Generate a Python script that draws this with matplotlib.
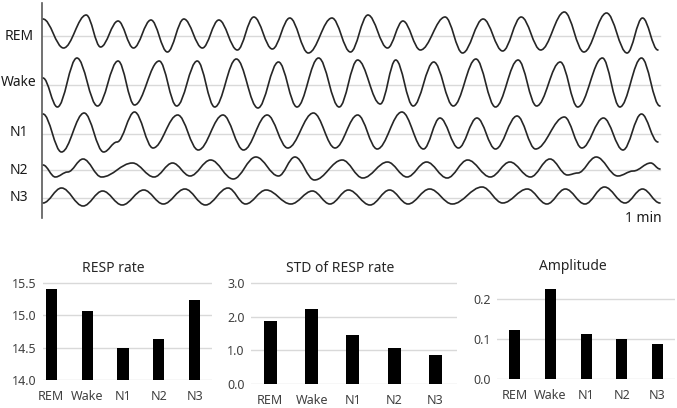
from matplotlib import pyplot as plt
from matplotlib.path import Path
from matplotlib.patches import PathPatch

plt.rcParams['font.family'] = ['Noto Sans', 'DejaVu Sans']

# breathing traces: peaks/troughs (time in s, signal in a.u.)
rem_t = [0.0, 2.0, 4.2, 5.6, 7.3, 8.8, 10.5, 12.1, 13.7, 15.5, 17.1, 18.9, 20.5, 22.3, 24.0, 25.8, 28.1,
         29.9, 31.6, 33.5, 35.0, 36.7, 39.1, 40.8, 42.8, 44.7, 46.5, 48.4, 50.7, 52.6, 54.8, 56.8, 58.3, 59.8]
rem_v = [16.5, -12.5, 20.5, -11.5, 14.5, -12.5, 15.5, -16.5, 16.5, -12.5, 15.5, -14.5, 18.5, -13.5, 17.5, -17.5, 17.5,
         -16.5, 20.5, -12.5, 14.5, -14.5, 18.5, -17.5, 16.5, -15.5, 18.5, -14.5, 23.5, -16.5, 22.5, -17.5, 17.5, -14.5]

wake_t = [0.0, 1.4, 3.3, 5.3, 7.3, 8.9, 11.3, 13.0, 15.0, 16.7, 18.8, 20.9, 22.9, 24.7, 26.8, 28.8,
          30.6, 32.8, 34.3, 36.0, 38.0, 39.9, 42.1, 44.0, 46.2, 48.0, 50.3, 52.0, 54.4, 56.1, 58.2, 60.0]
wake_v = [7, -22, 27, -21, 24, -20, 24, -21, 24, -22, 26, -23, 23, -22, 27, -22,
          25, -19, 25, -21, 23, -21, 26, -22, 25, -21, 23, -22, 27, -22, 27, -21]

n1_t = [0.0, 1.8, 4.0, 5.9, 7.2, 8.9, 10.7, 13.1, 15.1, 17.5, 19.5, 21.8, 23.8, 26.3, 28.4, 30.6,
        32.5, 34.9, 37.0, 38.6, 40.4, 42.2, 44.0, 46.1, 47.9, 50.7, 52.4, 54.5, 56.4, 58.2, 59.8]
n1_v = [19.5, -18.5, 20.5, -18.5, -8.5, 21.5, -14.5, 18.5, -16.5, 18.5, -16.5, 18.5, -14.5, 20.5, -14.5, 18.5,
        -15.5, 21.5, -15.5, 15.5, -14.5, 15.5, -15.5, 17.5, -15.5, 16.5, -14.5, 15.5, -16.5, 19.5, -8.5]

n2_t = [0.0, 1.2, 2.4, 3.9, 5.7, 8.7, 10.8, 12.6, 14.3, 16.3, 18.5, 20.7, 22.9, 24.5, 26.4, 29.1, 31.1,
        33.5, 35.4, 37.3, 39.3, 41.3, 43.5, 45.4, 47.4, 49.3, 51.0, 52.0, 53.8, 55.9, 57.4, 59.1, 60.0]
n2_v = [4.5, -7.5, -2.5, 10.5, -7.5, 6.5, -7.5, 6.5, -6.5, 9.5, -9.5, 12.5, -6.5, 12.5, -10.5, 9.5, -8.5,
        7.5, -7.5, 7.5, -8.5, 9.5, -7.5, 7.5, -7.5, 10.5, -5.5, -3.5, 12.5, -6.5, -1.5, 6.5, 0.5]

n3_t = [0.0, 1.8, 3.9, 5.8, 7.7, 9.8, 11.7, 13.8, 15.8, 18.0, 19.7, 21.7, 24.1, 26.2, 27.9, 29.7,
        31.8, 33.7, 35.5, 37.6, 39.8, 42.7, 44.7, 47.1, 49.0, 50.8, 52.7, 54.6, 56.6, 58.3, 60.0]
n3_v = [-5, 10, -8, 7, -7, 8, -6, 9, -7, 10, -6, 8, -6, 7, -6, 8,
        -7, 8, -6, 9, -6, 11, -5, 9, -6, 9, -6, 11, -5, 9, -5]

stages = ['REM', 'Wake', 'N1', 'N2', 'N3']
resp_rate = [15.41, 15.06, 14.49, 14.63, 15.23]
resp_std = [1.88, 2.24, 1.47, 1.06, 0.86]
amplitude = [0.123, 0.225, 0.114, 0.100, 0.087]

W, H = 677, 408
fig = plt.figure(figsize=(W / 100, H / 100), dpi=100)


def px_axes(l, t, r, b):
    return fig.add_axes([l / W, 1 - b / H, (r - l) / W, (b - t) / H])


def smooth_trace(ax, t, v, base):
    # cubic bezier between consecutive extrema, flat tangents at each extremum
    verts = [(t[0], v[0] - base)]
    codes = [Path.MOVETO]
    for i in range(1, len(t)):
        dt = t[i] - t[i - 1]
        verts += [(t[i - 1] + 0.37 * dt, v[i - 1] - base), (t[i] - 0.37 * dt, v[i] - base), (t[i], v[i] - base)]
        codes += [Path.CURVE4] * 3
    ax.add_patch(PathPatch(Path(verts, codes), fill=False, ec='#262626', lw=1.2, capstyle='round'))


# top panel: traces
ax = px_axes(42, 3, 662, 218)
ax.set_xlim((42 - 43) * 60 / 617, (662 - 43) * 60 / 617)
ax.set_ylim(-218, -3)
traces = [('REM', rem_t, rem_v, 35.5, 37), ('Wake', wake_t, wake_v, 85, 83),
          ('N1', n1_t, n1_v, 133.5, 133), ('N2', n2_t, n2_v, 169.5, 170), ('N3', n3_t, n3_v, 198, 197)]
for name, t, v, base, ly in traces:
    ax.axhline(-base, xmin=0, xmax=(660 - 42) / 620, color='#d9d9d9', lw=1, zorder=0)
    smooth_trace(ax, t, v, base)
    fig.text(19 / W, 1 - ly / H, name, ha='center', va='center', fontsize=10, color='#1a1a1a')
for s in ['top', 'right', 'bottom']:
    ax.spines[s].set_visible(False)
ax.spines['left'].set_color('#595959')
ax.spines['left'].set_linewidth(1.2)
ax.set_xticks([])
ax.set_yticks([])
fig.text(662 / W, 1 - 218 / H, '1 min', ha='right', va='center', fontsize=10, color='#1a1a1a')

# bottom panels: bar charts
panels = [
    (resp_rate, 'RESP rate', (43, 280, 212, 380), (51.3, 35.85), (14.0, 15.5 + 3 / 64.7),
     [14.0, 14.5, 15.0, 15.5], 113, 269),
    (resp_std, 'STD of RESP rate', (251, 280, 457, 384), (270.3, 41.3), (0.0, 3.0 + 3.3 / 33.6),
     [0.0, 1.0, 2.0, 3.0], 340, 269),
    (amplitude, 'Amplitude', (497, 280, 675, 379.3), (514.8, 35.7), (0.0, 0.2 + 19 / 402),
     [0.0, 0.1, 0.2], 573, 267),
]
for vals, title, (l, t, r, b), (c0, sp), ylim, yticks, tx, ty in panels:
    bx = px_axes(l, t, r, b)
    bx.bar(range(len(stages)), vals, width=0.31, color='black', zorder=3)
    bx.set_xlim((l - c0) / sp, (r - c0) / sp)
    bx.set_ylim(*ylim)
    bx.set_yticks(yticks)
    bx.set_yticklabels([f'{y:.1f}' for y in yticks])
    bx.set_xticks(range(len(stages)))
    bx.set_xticklabels(stages)
    bx.grid(axis='y', color='#d9d9d9', lw=1, zorder=0)
    for s in bx.spines.values():
        s.set_visible(False)
    bx.tick_params(length=0, labelsize=9, labelcolor='#404040')
    bx.tick_params(axis='y', pad=4.5)
    bx.tick_params(axis='x', pad=7)
    fig.text(tx / W, 1 - ty / H, title, ha='center', va='center', fontsize=10, color='#262626')

fig.savefig('out.png', dpi=100, facecolor='white')
